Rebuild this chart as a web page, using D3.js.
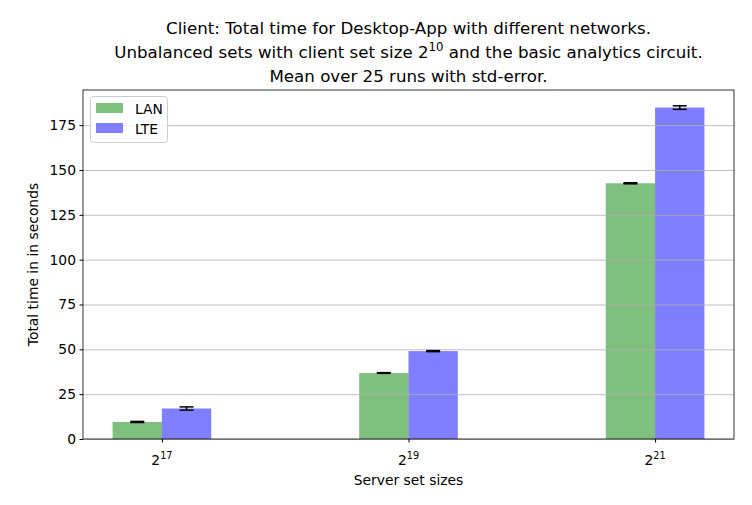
<!DOCTYPE html>
<html><head><meta charset="utf-8">
<script src="https://cdn.jsdelivr.net/npm/d3@7"></script>
<style>body{margin:0;background:#fff;} text{font-family:"DejaVu Sans",sans-serif;}</style>
</head><body>
<svg id="c" width="752" height="505"></svg>
<script>
const categories = ["17", "19", "21"];
const seriesNames = ["LAN", "LTE"];
const lanValues = [9.5, 36.8, 142.6];
const lteValues = [17.0, 49.0, 184.8];
const lanErrors = [0.3, 0.2, 0.3];
const lteErrors = [0.9, 0.3, 1.0];
const yTicks = [0, 25, 50, 75, 100, 125, 150, 175];
const colors = ["#008000", "#0000ff"];

const svg = d3.select("#c");
const L = 83, R = 734, T = 90, B = 439;
const x = d3.scaleLinear().domain([-0.32, 2.32]).range([L, R]);
const y = d3.scaleLinear().domain([0, 194.6]).range([B, T]);
const bw = 0.2;
const fs = "13.89px";

const series = [
  {name: seriesNames[0], vals: lanValues, errs: lanErrors, off: -0.1, color: colors[0]},
  {name: seriesNames[1], vals: lteValues, errs: lteErrors, off: 0.1, color: colors[1]}
];

// bars
series.forEach(s => {
  svg.append("g").selectAll("rect").data(s.vals).join("rect")
    .attr("x", (d, i) => x(i + s.off - bw / 2))
    .attr("width", x(bw) - x(0))
    .attr("y", d => y(d))
    .attr("height", d => y(0) - y(d))
    .attr("fill", s.color).attr("fill-opacity", 0.5);
});

// grid
svg.append("g").selectAll("line").data(yTicks).join("line")
  .attr("x1", L).attr("x2", R)
  .attr("y1", d => y(d) + 0.5).attr("y2", d => y(d) + 0.5)
  .attr("stroke", "#b0b0b0").attr("stroke-width", 0.8);

// error bars
series.forEach(s => {
  const g = svg.append("g").attr("stroke", "#000").attr("stroke-width", 1.5);
  s.vals.forEach((v, i) => {
    const cx = x(i + s.off);
    const e = s.errs[i];
    g.append("line").attr("x1", cx).attr("x2", cx).attr("y1", y(v - e)).attr("y2", y(v + e));
    g.append("line").attr("x1", cx - 7).attr("x2", cx + 7).attr("y1", y(v - e)).attr("y2", y(v - e));
    g.append("line").attr("x1", cx - 7).attr("x2", cx + 7).attr("y1", y(v + e)).attr("y2", y(v + e));
  });
});

// axes
const yAxis = d3.axisLeft(y).tickValues(yTicks).tickSize(3.5).tickPadding(3.5);
const gy = svg.append("g").attr("transform", `translate(${L},0)`).call(yAxis);
gy.select(".domain").remove();
gy.selectAll("text").attr("font-size", fs).attr("fill", "#000").attr("font-family", "DejaVu Sans");

const xAxis = d3.axisBottom(x).tickValues([0, 1, 2]).tickSize(3.5).tickFormat("");
const gx = svg.append("g").attr("transform", `translate(0,${B})`).call(xAxis);
gx.select(".domain").remove();
categories.forEach((c, i) => {
  const t = svg.append("text").attr("x", x(i)).attr("y", B + 26)
    .attr("text-anchor", "middle").attr("font-size", fs);
  t.append("tspan").text("2");
  t.append("tspan").attr("dy", -6).attr("font-size", "9.7px").text(c);
});

// frame
svg.append("rect").attr("x", L).attr("y", T).attr("width", R - L).attr("height", B - T)
  .attr("fill", "none").attr("stroke", "#000").attr("stroke-width", 0.8);

// labels
svg.append("text").attr("x", (L + R) / 2).attr("y", 485).attr("text-anchor", "middle")
  .attr("font-size", fs).text("Server set sizes");
svg.append("text").attr("transform", `translate(38,${(T + B) / 2}) rotate(-90)`)
  .attr("text-anchor", "middle").attr("font-size", fs).text("Total time in in seconds");

// title
const cxT = (L + R) / 2;
const tfs = "16.67px";
svg.append("text").attr("x", cxT).attr("y", 34).attr("text-anchor", "middle").attr("font-size", tfs)
  .text("Client: Total time for Desktop-App with different networks.");
const t2 = svg.append("text").attr("x", cxT).attr("y", 58).attr("text-anchor", "middle").attr("font-size", tfs);
t2.append("tspan").text("Unbalanced sets with client set size 2");
t2.append("tspan").attr("dy", -7).attr("font-size", "11.7px").text("10");
t2.append("tspan").attr("dy", 7).text(" and the basic analytics circuit.");
svg.append("text").attr("x", cxT).attr("y", 82).attr("text-anchor", "middle").attr("font-size", tfs)
  .text("Mean over 25 runs with std-error.");

// legend
const lg = svg.append("g");
lg.append("rect").attr("x", 90.5).attr("y", 96.5).attr("width", 77).attr("height", 46).attr("rx", 3)
  .attr("fill", "#fff").attr("fill-opacity", 0.8).attr("stroke", "#cccccc");
series.forEach((s, i) => {
  lg.append("rect").attr("x", 96).attr("y", 103 + i * 20).attr("width", 27).attr("height", 10)
    .attr("fill", s.color).attr("fill-opacity", 0.5);
  lg.append("text").attr("x", 135).attr("y", 114 + i * 20).attr("font-size", fs).text(s.name);
});
</script>
</body></html>
